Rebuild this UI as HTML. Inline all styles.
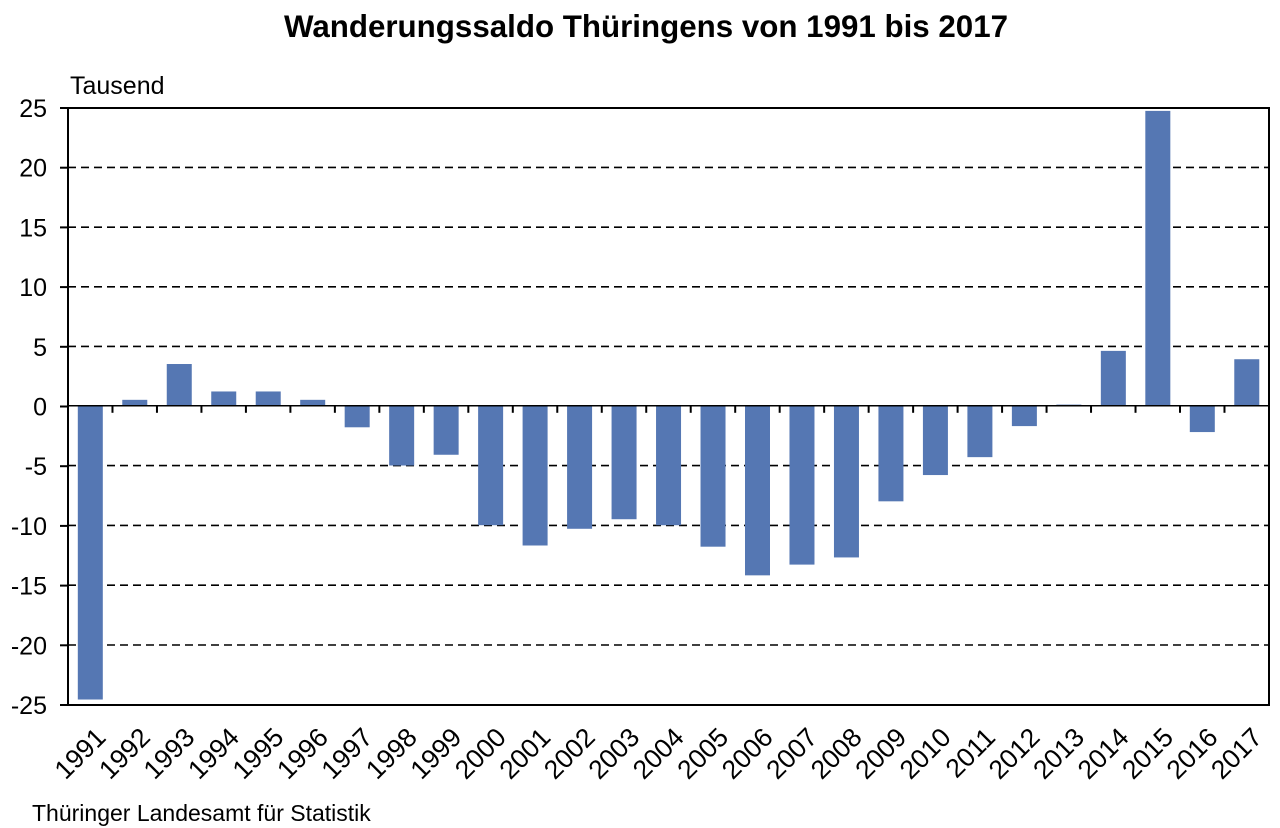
<!DOCTYPE html>
<html><head><meta charset="utf-8"><style>body{margin:0;background:#fff}svg{display:block}</style></head><body>
<svg width="1280" height="828" xmlns="http://www.w3.org/2000/svg" font-family="Liberation Sans, Arial, sans-serif">
<text x="646" y="37" text-anchor="middle" font-size="31.3" font-weight="bold">Wanderungssaldo Thüringens von 1991 bis 2017</text>
<text x="70" y="94" font-size="25">Tausend</text>
<g id="grid" stroke="#000" stroke-width="1.6" stroke-dasharray="8,5">
<line x1="68" x2="1269" y1="167.4" y2="167.4"/><line x1="68" x2="1269" y1="227.2" y2="227.2"/><line x1="68" x2="1269" y1="286.8" y2="286.8"/><line x1="68" x2="1269" y1="346.4" y2="346.4"/>
<line x1="68" x2="1269" y1="465.6" y2="465.6"/><line x1="68" x2="1269" y1="525.4" y2="525.4"/><line x1="68" x2="1269" y1="585.2" y2="585.2"/><line x1="68" x2="1269" y1="645" y2="645"/>
</g>
<g fill="#5577b3" id="bars"></g>
<rect x="68" y="108" width="1201" height="597" fill="none" stroke="#000" stroke-width="2"/>
<line x1="68" x2="1269" y1="405.8" y2="405.8" stroke="#000" stroke-width="1.5"/>
<g id="ticks" stroke="#000" stroke-width="2"></g>
<g id="yl" font-size="25" text-anchor="end"></g>
<g id="xl" font-size="26.5" text-anchor="end"></g>
<text x="32" y="821" font-size="23">Thüringer Landesamt für Statistik</text>
<script>
var v=[-24.6,0.5,3.5,1.2,1.2,0.5,-1.8,-5,-4.1,-10,-11.7,-10.3,-9.5,-10,-11.8,-14.2,-13.3,-12.7,-8,-5.8,-4.3,-1.7,0.1,4.6,24.7,-2.2,3.9];
var ns="http://www.w3.org/2000/svg",L=68,W=44.48,Z=405.8,S=11.94;
function el(t,a,p,txt){var e=document.createElementNS(ns,t);for(var k in a)e.setAttribute(k,a[k]);if(txt)e.textContent=txt;document.getElementById(p).appendChild(e);}
v.forEach(function(d,i){var x=L+i*W+9.8,h=Math.abs(d)*S;el('rect',{x:x,y:d>0?Z-h:Z,width:25,height:Math.max(h,1)},'bars');
 var cx=L+i*W+W/2; el('text',{x:0,y:0,transform:'translate('+(cx+17)+',739) rotate(-45)'},'xl',String(1991+i));
 if(i>0)el('line',{x1:L+i*W,x2:L+i*W,y1:Z,y2:Z+7},'ticks');});
for(var k=0;k<=10;k++){var y=108+k*59.7;el('text',{x:47,y:y+9},'yl',String(25-5*k));el('line',{x1:60,x2:68,y1:y,y2:y},'ticks');}
</script>
</svg>
</body></html>
